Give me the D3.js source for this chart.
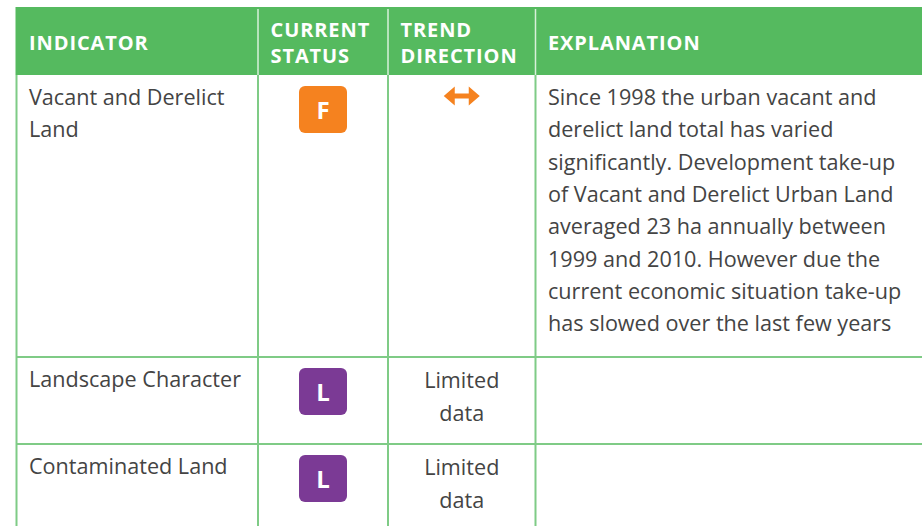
<!DOCTYPE html>
<html><head><meta charset="utf-8">
<script src="https://cdn.jsdelivr.net/npm/d3@7"></script>
<style>
html,body{margin:0;padding:0;background:#fff;overflow:hidden}
svg{display:block}
</style></head>
<body>
<svg id="chart" width="922" height="526"></svg>
<script>
// ---- data ----
const headers = [["INDICATOR"], ["CURRENT", "STATUS"], ["TREND", "DIRECTION"], ["EXPLANATION"]];
const indicators = [["Vacant and Derelict", "Land"], ["Landscape Character"], ["Contaminated Land"]];
const statuses = ["F", "L", "L"];
const statusColors = { F: "#F5821F", L: "#7B3A95" };
const trends = ["stable", "Limited data", "Limited data"];
const explanations = [[
  "Since 1998 the urban vacant and",
  "derelict land total has varied",
  "significantly. Development take-up",
  "of Vacant and Derelict Urban Land",
  "averaged 23 ha annually between",
  "1999 and 2010. However due the",
  "current economic situation take-up",
  "has slowed over the last few years"
], [], []];

// ---- layout ----
const W = 922, H = 526;
const svg = d3.select("#chart");
const cols = [0, 1, 2, 3];
const colEdges = [16.5, 258, 388, 535.5, 960];
const xLeft = d3.scaleOrdinal().domain(cols).range(colEdges.slice(0, 4));
const xRight = d3.scaleOrdinal().domain(cols).range(colEdges.slice(1));
const xMid = c => (xLeft(c) + xRight(c)) / 2;

const rowIdx = [0, 1, 2];
const headTop = 7, headBottom = 75;
const rowEdges = [75, 357, 444, 560];
const yTop = d3.scaleOrdinal().domain(rowIdx).range(rowEdges.slice(0, 3));
const yBot = d3.scaleOrdinal().domain(rowIdx).range(rowEdges.slice(1));

const green = "#55BA5F", grid = "#7FCB86", textCol = "#444444";
const bodyFont = "'Open Sans', 'Noto Sans', sans-serif";
const bodySize = 21.6;
const lineH = 32.3;

// header background
svg.append("rect").attr("x", colEdges[0] - 1).attr("y", headTop)
  .attr("width", W - colEdges[0] + 1).attr("height", headBottom - headTop).attr("fill", green);

// header dividers (white)
svg.selectAll("line.hdiv").data(cols.slice(1)).join("line").attr("class", "hdiv")
  .attr("x1", c => xLeft(c)).attr("x2", c => xLeft(c))
  .attr("y1", headTop + 2).attr("y2", headBottom)
  .attr("stroke", "#d8f0da").attr("stroke-width", 1.5);

// header text
const hg = svg.selectAll("g.head").data(headers).join("g").attr("class", "head");
hg.each(function (lines, i) {
  const g = d3.select(this);
  const n = lines.length;
  const cy = (headTop + headBottom) / 2 + 2;
  g.selectAll("text").data(lines).join("text")
    .attr("x", xLeft(i) + 12.5)
    .attr("y", (d, j) => cy + (j - (n - 1) / 2) * 26 + 7)
    .attr("fill", "#fff")
    .attr("font-family", bodyFont)
    .attr("font-weight", 700)
    .attr("font-size", 20)
    .attr("letter-spacing", 0.9)
    .text(d => d);
});

// grid lines: horizontal row separators
svg.selectAll("line.hrow").data(rowIdx.slice(1)).join("line").attr("class", "hrow")
  .attr("x1", colEdges[0]).attr("x2", W)
  .attr("y1", r => yTop(r)).attr("y2", r => yTop(r))
  .attr("stroke", grid).attr("stroke-width", 2);
// vertical lines in body
svg.selectAll("line.vcol").data(cols).join("line").attr("class", "vcol")
  .attr("x1", c => xLeft(c)).attr("x2", c => xLeft(c))
  .attr("y1", headBottom).attr("y2", H)
  .attr("stroke", grid).attr("stroke-width", 2);

// rows
const rows = svg.selectAll("g.row").data(rowIdx).join("g").attr("class", "row");
rows.each(function (r) {
  const g = d3.select(this);
  const top = yTop(r);
  const base = top + 30;
  // indicator
  g.selectAll("text.ind").data(indicators[r]).join("text").attr("class", "ind")
    .attr("x", xLeft(0) + 12.5).attr("y", (d, j) => base + j * lineH)
    .attr("fill", textCol).attr("font-family", bodyFont).attr("font-size", bodySize)
    .text(d => d);
  // status badge
  const s = statuses[r];
  const bx = xMid(1) - 24, by = top + 11;
  g.append("rect").attr("x", bx).attr("y", by).attr("width", 48).attr("height", 47)
    .attr("rx", 6).attr("fill", statusColors[s]);
  g.append("text").attr("x", bx + 24).attr("y", by + 33).attr("text-anchor", "middle")
    .attr("fill", "#fff").attr("font-family", bodyFont).attr("font-weight", 700)
    .attr("font-size", 24).text(s);
  // trend
  const t = trends[r];
  if (t === "stable") {
    const cx = xMid(2), cy = top + 21, hw = 18, hh = 9.5, hl = 11, sw = 2.5;
    const p = d3.path();
    p.moveTo(cx - hw, cy);
    p.lineTo(cx - hw + hl, cy - hh);
    p.lineTo(cx - hw + hl, cy - sw);
    p.lineTo(cx + hw - hl, cy - sw);
    p.lineTo(cx + hw - hl, cy - hh);
    p.lineTo(cx + hw, cy);
    p.lineTo(cx + hw - hl, cy + hh);
    p.lineTo(cx + hw - hl, cy + sw);
    p.lineTo(cx - hw + hl, cy + sw);
    p.lineTo(cx - hw + hl, cy + hh);
    p.closePath();
    g.append("path").attr("d", p.toString()).attr("fill", statusColors.F);
  } else {
    const words = t.split(" ");
    g.selectAll("text.trend").data(words).join("text").attr("class", "trend")
      .attr("x", xMid(2)).attr("y", (d, j) => base + 1 + j * 33).attr("text-anchor", "middle")
      .attr("fill", textCol).attr("font-family", bodyFont).attr("font-size", bodySize)
      .text(d => d);
  }
  // explanation
  g.selectAll("text.exp").data(explanations[r]).join("text").attr("class", "exp")
    .attr("x", xLeft(3) + 12.5).attr("y", (d, j) => base + j * lineH)
    .attr("fill", textCol).attr("font-family", bodyFont).attr("font-size", bodySize)
    .text(d => d);
});
</script>
</body></html>
